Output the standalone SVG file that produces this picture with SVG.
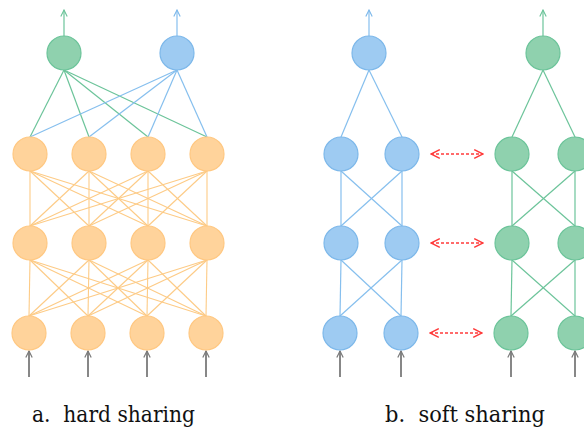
<svg xmlns="http://www.w3.org/2000/svg" width="584" height="429" viewBox="0 0 584 429">
<style>
.o{fill:#FFD39B;stroke:#FFC882;stroke-width:1.2}
.g{fill:#8FD1AE;stroke:#6CC49A;stroke-width:1.2}
.b{fill:#9ECBF2;stroke:#7DB8EA;stroke-width:1.2}
.eo{stroke:#FDCB86;stroke-width:1.1;fill:none}
.eg{stroke:#6CC49A;stroke-width:1.2;fill:none}
.eb{stroke:#86BFEE;stroke-width:1.2;fill:none}
.in{stroke:#7A7A7A;stroke-width:1.8;fill:none}
.red{stroke:#FF3B3B;stroke-width:1.3;stroke-dasharray:3 2;fill:none}
.lbl{font-family:"DejaVu Serif","Liberation Serif",serif;font-size:22px;fill:#111}
</style>
<defs>
<marker id="ahg" viewBox="0 0 10 10" refX="9" refY="5" markerWidth="8" markerHeight="8" orient="auto" markerUnits="userSpaceOnUse"><path d="M1,1 L9,5 L1,9" fill="none" stroke="#7A7A7A" stroke-width="1.5"/></marker>
<marker id="ahgr" viewBox="0 0 10 10" refX="9" refY="5" markerWidth="8" markerHeight="8" orient="auto" markerUnits="userSpaceOnUse"><path d="M1,1 L9,5 L1,9" fill="none" stroke="#6CC49A" stroke-width="1.4"/></marker>
<marker id="ahbl" viewBox="0 0 10 10" refX="9" refY="5" markerWidth="8" markerHeight="8" orient="auto" markerUnits="userSpaceOnUse"><path d="M1,1 L9,5 L1,9" fill="none" stroke="#7DB8EA" stroke-width="1.4"/></marker>
<marker id="ahr" viewBox="0 0 10 10" refX="9" refY="5" markerWidth="11" markerHeight="11" orient="auto-start-reverse" markerUnits="userSpaceOnUse"><path d="M1,1 L9,5 L1,9" fill="none" stroke="#FF3B3B" stroke-width="1.3"/></marker>
</defs>
<g id="connectors">
<line class="eg" x1="64" y1="36" x2="64" y2="10" marker-end="url(#ahgr)"/>
<line class="eb" x1="177" y1="36" x2="177" y2="10" marker-end="url(#ahbl)"/>
<g class="eg">
<line x1="64" y1="70" x2="30" y2="137"/><line x1="64" y1="70" x2="89" y2="137"/><line x1="64" y1="70" x2="148" y2="137"/><line x1="64" y1="70" x2="207" y2="137"/>
</g>
<g class="eb">
<line x1="177" y1="70" x2="30" y2="137"/><line x1="177" y1="70" x2="89" y2="137"/><line x1="177" y1="70" x2="148" y2="137"/><line x1="177" y1="70" x2="207" y2="137"/>
</g>
<g class="eo">
<line x1="30" y1="171" x2="30" y2="226"/><line x1="30" y1="171" x2="89" y2="226"/><line x1="30" y1="171" x2="148" y2="226"/><line x1="30" y1="171" x2="207" y2="226"/>
<line x1="89" y1="171" x2="30" y2="226"/><line x1="89" y1="171" x2="89" y2="226"/><line x1="89" y1="171" x2="148" y2="226"/><line x1="89" y1="171" x2="207" y2="226"/>
<line x1="148" y1="171" x2="30" y2="226"/><line x1="148" y1="171" x2="89" y2="226"/><line x1="148" y1="171" x2="148" y2="226"/><line x1="148" y1="171" x2="207" y2="226"/>
<line x1="207" y1="171" x2="30" y2="226"/><line x1="207" y1="171" x2="89" y2="226"/><line x1="207" y1="171" x2="148" y2="226"/><line x1="207" y1="171" x2="207" y2="226"/>
</g>
<g class="eo">
<line x1="30" y1="260" x2="29" y2="316"/><line x1="30" y1="260" x2="88" y2="316"/><line x1="30" y1="260" x2="147" y2="316"/><line x1="30" y1="260" x2="206" y2="316"/>
<line x1="89" y1="260" x2="29" y2="316"/><line x1="89" y1="260" x2="88" y2="316"/><line x1="89" y1="260" x2="147" y2="316"/><line x1="89" y1="260" x2="206" y2="316"/>
<line x1="148" y1="260" x2="29" y2="316"/><line x1="148" y1="260" x2="88" y2="316"/><line x1="148" y1="260" x2="147" y2="316"/><line x1="148" y1="260" x2="206" y2="316"/>
<line x1="207" y1="260" x2="29" y2="316"/><line x1="207" y1="260" x2="88" y2="316"/><line x1="207" y1="260" x2="147" y2="316"/><line x1="207" y1="260" x2="206" y2="316"/>
</g>
<line class="in" x1="29" y1="377" x2="29" y2="351" marker-end="url(#ahg)"/>
<line class="in" x1="88" y1="377" x2="88" y2="351" marker-end="url(#ahg)"/>
<line class="in" x1="147" y1="377" x2="147" y2="351" marker-end="url(#ahg)"/>
<line class="in" x1="206" y1="377" x2="206" y2="351" marker-end="url(#ahg)"/>
<line class="eb" x1="369" y1="36" x2="369" y2="10" marker-end="url(#ahbl)"/>
<g class="eb">
<line x1="369" y1="70" x2="341" y2="137"/><line x1="369" y1="70" x2="402" y2="137"/>
<line x1="341" y1="171" x2="341" y2="226"/><line x1="402" y1="171" x2="402" y2="226"/><line x1="341" y1="171" x2="402" y2="226"/><line x1="402" y1="171" x2="341" y2="226"/>
<line x1="341" y1="260" x2="340" y2="316"/><line x1="402" y1="260" x2="401" y2="316"/><line x1="341" y1="260" x2="401" y2="316"/><line x1="402" y1="260" x2="340" y2="316"/>
</g>
<line class="eg" x1="543" y1="36" x2="543" y2="10" marker-end="url(#ahgr)"/>
<g class="eg">
<line x1="543" y1="70" x2="512" y2="137"/><line x1="543" y1="70" x2="575" y2="137"/>
<line x1="512" y1="171" x2="512" y2="226"/><line x1="575" y1="171" x2="575" y2="226"/><line x1="512" y1="171" x2="575" y2="226"/><line x1="575" y1="171" x2="512" y2="226"/>
<line x1="512" y1="260" x2="511" y2="316"/><line x1="575" y1="260" x2="575" y2="316"/><line x1="512" y1="260" x2="575" y2="316"/><line x1="575" y1="260" x2="511" y2="316"/>
</g>
<line class="in" x1="340" y1="377" x2="340" y2="351" marker-end="url(#ahg)"/>
<line class="in" x1="401" y1="377" x2="401" y2="351" marker-end="url(#ahg)"/>
<line class="in" x1="511" y1="377" x2="511" y2="351" marker-end="url(#ahg)"/>
<line class="in" x1="575" y1="377" x2="575" y2="351" marker-end="url(#ahg)"/>
<line class="red" x1="431" y1="154" x2="483" y2="154" marker-start="url(#ahr)" marker-end="url(#ahr)"/>
<line class="red" x1="431" y1="243" x2="483" y2="243" marker-start="url(#ahr)" marker-end="url(#ahr)"/>
<line class="red" x1="430" y1="333" x2="482" y2="333" marker-start="url(#ahr)" marker-end="url(#ahr)"/>
</g>
<g id="a-out-green"><circle class="g" cx="64" cy="53" r="17"/></g>
<g id="a-out-blue"><circle class="b" cx="177" cy="53" r="17"/></g>
<g id="a-h1-1"><circle class="o" cx="30" cy="154" r="17"/></g>
<g id="a-h1-2"><circle class="o" cx="89" cy="154" r="17"/></g>
<g id="a-h1-3"><circle class="o" cx="148" cy="154" r="17"/></g>
<g id="a-h1-4"><circle class="o" cx="207" cy="154" r="17"/></g>
<g id="a-h2-1"><circle class="o" cx="30" cy="243" r="17"/></g>
<g id="a-h2-2"><circle class="o" cx="89" cy="243" r="17"/></g>
<g id="a-h2-3"><circle class="o" cx="148" cy="243" r="17"/></g>
<g id="a-h2-4"><circle class="o" cx="207" cy="243" r="17"/></g>
<g id="a-in-1"><circle class="o" cx="29" cy="333" r="17"/></g>
<g id="a-in-2"><circle class="o" cx="88" cy="333" r="17"/></g>
<g id="a-in-3"><circle class="o" cx="147" cy="333" r="17"/></g>
<g id="a-in-4"><circle class="o" cx="206" cy="333" r="17"/></g>
<g id="b-blue-out"><circle class="b" cx="369" cy="53" r="17"/></g>
<g id="b-blue-h1-1"><circle class="b" cx="341" cy="154" r="17"/></g>
<g id="b-blue-h1-2"><circle class="b" cx="402" cy="154" r="17"/></g>
<g id="b-blue-h2-1"><circle class="b" cx="341" cy="243" r="17"/></g>
<g id="b-blue-h2-2"><circle class="b" cx="402" cy="243" r="17"/></g>
<g id="b-blue-in-1"><circle class="b" cx="340" cy="333" r="17"/></g>
<g id="b-blue-in-2"><circle class="b" cx="401" cy="333" r="17"/></g>
<g id="b-green-out"><circle class="g" cx="543" cy="53" r="17"/></g>
<g id="b-green-h1-1"><circle class="g" cx="512" cy="154" r="17"/></g>
<g id="b-green-h1-2"><circle class="g" cx="575" cy="154" r="17"/></g>
<g id="b-green-h2-1"><circle class="g" cx="512" cy="243" r="17"/></g>
<g id="b-green-h2-2"><circle class="g" cx="575" cy="243" r="17"/></g>
<g id="b-green-in-1"><circle class="g" cx="511" cy="333" r="17"/></g>
<g id="b-green-in-2"><circle class="g" cx="575" cy="333" r="17"/></g>
<text class="lbl" x="32" y="422" textLength="163" lengthAdjust="spacingAndGlyphs" xml:space="preserve">a.  hard sharing</text>
<text class="lbl" x="385" y="422" textLength="160" lengthAdjust="spacingAndGlyphs" xml:space="preserve">b.  soft sharing</text>
</svg>
